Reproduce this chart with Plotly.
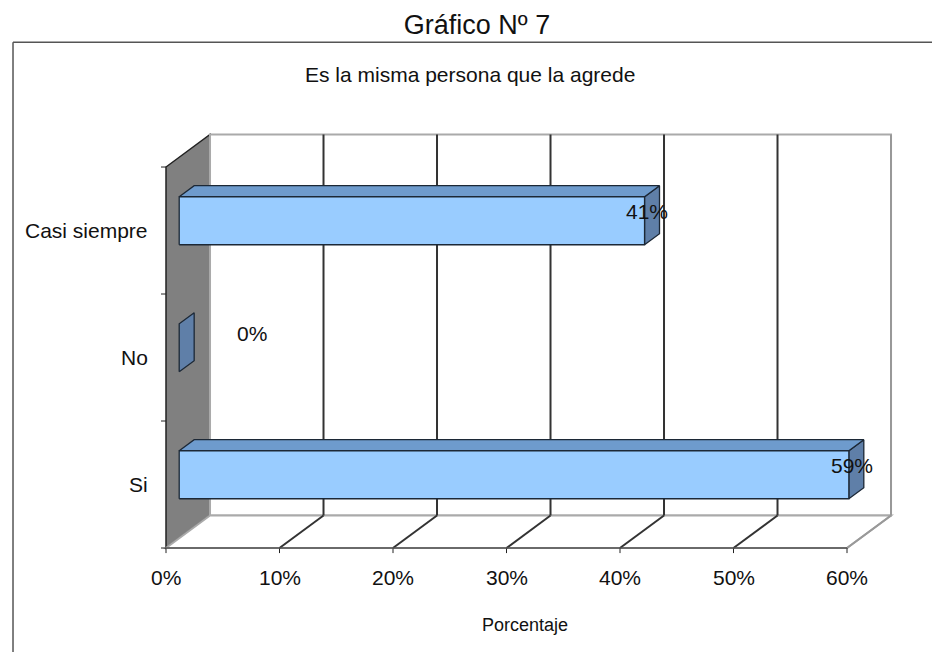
import plotly.graph_objects as go

# ---- data ----
categories = ["Si", "No", "Casi siempre"]
values = [59, 0, 41]
tick_vals = [0, 10, 20, 30, 40, 50, 60]
tick_labels = ["0%", "10%", "20%", "30%", "40%", "50%", "60%"]
title_text = "Gráfico Nº 7"
subtitle_text = "Es la misma persona que la agrede"
axis_title = "Porcentaje"

# ---- 3D projection parameters (data units) ----
XMAX = tick_vals[-1]
NCAT = len(categories)
DX = 3.877      # depth offset in x (percent)
DY = 0.256      # depth offset in y (category units)
D0, D1 = 0.30, 0.64   # bar depth range
H = 0.189       # half bar thickness
XR = [-2.291, 65.11]
YR = [-0.1339, 3.449]

def P(x, y, d):
    return (x + d * DX, y + d * DY)

def to_paper_x(x):
    return (x - XR[0]) / (XR[1] - XR[0])

def to_paper_y(y):
    return (y - YR[0]) / (YR[1] - YR[0])

def path(pts):
    s = "M %f %f" % pts[0]
    for p in pts[1:]:
        s += " L %f %f" % p
    return s + " Z"

shapes = []
# left wall
shapes.append(dict(type="path", layer="below", xref="x", yref="y",
                   path=path([P(0, 0, 0), P(0, NCAT, 0), P(0, NCAT, 1), P(0, 0, 1)]),
                   fillcolor="#808080", line=dict(color="#222222", width=1.5)))
# back wall
shapes.append(dict(type="path", layer="below", xref="x", yref="y",
                   path=path([P(0, 0, 1), P(XMAX, 0, 1), P(XMAX, NCAT, 1), P(0, NCAT, 1)]),
                   fillcolor="white", line=dict(color="#aaaaaa", width=2)))
# floor
shapes.append(dict(type="path", layer="below", xref="x", yref="y",
                   path=path([P(0, 0, 0), P(XMAX, 0, 0), P(XMAX, 0, 1), P(0, 0, 1)]),
                   fillcolor="white", line=dict(color="#aaaaaa", width=2)))
# gridlines
for t in tick_vals:
    col = "#999999" if t == XMAX else "#333333"
    if t > 0:
        a, b = P(t, 0, 1), P(t, NCAT, 1)
        shapes.append(dict(type="line", layer="below", xref="x", yref="y",
                           x0=a[0], y0=a[1], x1=b[0], y1=b[1], line=dict(color=col, width=2)))
        a, b = P(t, 0, 0), P(t, 0, 1)
        shapes.append(dict(type="line", layer="below", xref="x", yref="y",
                           x0=a[0], y0=a[1], x1=b[0], y1=b[1], line=dict(color=col, width=2)))
    # x tick marks
    shapes.append(dict(type="line", layer="below", xref="x", yref="y",
                       x0=t, y0=0, x1=t, y1=-0.04, line=dict(color="#222222", width=1)))
# front floor edge
shapes.append(dict(type="line", layer="below", xref="x", yref="y",
                   x0=0, y0=0, x1=XMAX, y1=0, line=dict(color="#555555", width=1.5)))
# y tick marks
for k in range(NCAT + 1):
    shapes.append(dict(type="line", layer="below", xref="x", yref="y",
                       x0=-0.44, y0=k, x1=0, y1=k, line=dict(color="#222222", width=1)))
# outer frame (left + top)
shapes.append(dict(type="line", xref="paper", yref="paper",
                   x0=-0.166, y0=1.149, x1=-0.166, y1=-0.2, line=dict(color="#555555", width=1.5)))
shapes.append(dict(type="line", xref="paper", yref="paper",
                   x0=-0.166, y0=1.149, x1=1.05, y1=1.149, line=dict(color="#555555", width=1.5)))

fig = go.Figure()

def face(pts, color):
    xs = [p[0] for p in pts] + [pts[0][0]]
    ys = [p[1] for p in pts] + [pts[0][1]]
    fig.add_trace(go.Scatter(x=xs, y=ys, mode="lines", fill="toself", fillcolor=color,
                             line=dict(color="#1c2836", width=1.3), hoverinfo="skip",
                             showlegend=False))

annotations = []
for i, (cat, v) in enumerate(zip(categories, values)):
    c = i + 0.5
    lo, hi = c - H, c + H
    # end face
    face([P(v, lo, D0), P(v, hi, D0), P(v, hi, D1), P(v, lo, D1)], "#5f7fa8")
    if v > 0:
        # top face
        face([P(0, hi, D0), P(v, hi, D0), P(v, hi, D1), P(0, hi, D1)], "#6e9bcd")
        # front face
        face([P(0, lo, D0), P(v, lo, D0), P(v, hi, D0), P(0, hi, D0)], "#99ccff")
    lx = v + 1.4 if v > 0 else 7.6
    ly = c + 0.15 if v > 0 else c + 0.19
    annotations.append(dict(x=lx, y=ly, xref="x", yref="y", text="%d%%" % v, showarrow=False,
                            font=dict(size=21, color="#111111"), xanchor="center", yanchor="middle"))
    annotations.append(dict(x=to_paper_x(-1.4), y=to_paper_y(c), xref="paper", yref="paper",
                            text=cat, showarrow=False,
                            font=dict(size=21, color="#111111"), xanchor="right", yanchor="middle"))

for t, lab in zip(tick_vals, tick_labels):
    annotations.append(dict(x=to_paper_x(t), y=to_paper_y(-0.236), xref="paper", yref="paper",
                            text=lab, showarrow=False,
                            font=dict(size=21, color="#111111"), xanchor="center", yanchor="middle"))

annotations.append(dict(x=0.503, y=-0.132, xref="paper", yref="paper", text=axis_title,
                        showarrow=False, font=dict(size=18, color="#111111"),
                        xanchor="center", yanchor="middle"))
annotations.append(dict(x=0.431, y=1.077, xref="paper", yref="paper", text=subtitle_text,
                        showarrow=False, font=dict(size=21, color="#111111"),
                        xanchor="center", yanchor="middle"))

fig.update_layout(
    width=932, height=652,
    margin=dict(l=140, r=27, t=110, b=87),
    paper_bgcolor="white", plot_bgcolor="white",
    font=dict(family="Liberation Sans, Arial, sans-serif", color="#111111"),
    title=dict(text=title_text, x=477 / 932, xanchor="center", y=1 - 25 / 652, yanchor="middle",
               font=dict(size=27, color="#111111")),
    xaxis=dict(visible=False, range=XR, fixedrange=True),
    yaxis=dict(visible=False, range=YR, fixedrange=True),
    shapes=shapes, annotations=annotations, showlegend=False,
)

fig.write_html("out.html")
